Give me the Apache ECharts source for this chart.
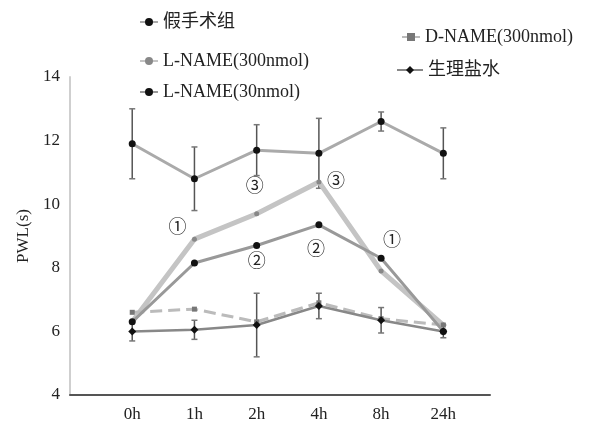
<!DOCTYPE html>
<html><head><meta charset="utf-8">
<script src="https://cdn.jsdelivr.net/npm/echarts@6/dist/echarts.min.js"></script>
<style>html,body{margin:0;padding:0;background:#fff}#c{width:611px;height:426px}</style>
</head><body><div id="c"></div>
<script>
const categories = ['0h','1h','2h','4h','8h','24h'];
const yTicks = [4,6,8,10,12,14];
const names = ['假手术组','L-NAME(300nmol)','L-NAME(30nmol)','D-NAME(300nmol)','生理盐水'];
const sham = [11.9,10.8,11.7,11.6,12.6,11.6];
const shamErr = [1.1,1.0,0.8,1.1,0.3,0.8];
const lname300 = [6.3,8.9,9.7,10.7,7.9,6.2];
const lname30 = [6.3,8.15,8.7,9.35,8.3,6.0];
const dname300 = [6.6,6.7,6.3,6.9,6.4,6.2];
const saline = [6.0,6.05,6.2,6.8,6.35,6.0];
const salineErr = [0.3,0.3,1.0,0.4,0.4,0.2];
const notes300 = ['','①','③','③','①',''];
const notes30 = ['','','②','②','',''];

const FONT = "'Liberation Serif','Noto Sans CJK SC',serif";
const offs300 = [[0,0],[-17,-11],[-2,-26],[17,0],[11,-30],[0,0]];
const offs30 = [[0,0],[0,0],[0,17],[-3,25],[0,0],[0,0]];

function pts(arr, notes, offs){
  return arr.map((v,i)=>{
    const d = {value:[i,v]};
    if(notes && notes[i]){
      d.label = {show:true, formatter:notes[i], position:'inside', offset:offs[i],
        fontSize:18, color:'#222', fontFamily:FONT};
    }
    return d;
  });
}
function errData(arr, err){ return arr.map((v,i)=>[i, v-err[i], v+err[i]]); }
function errRender(params, api){
  const x = api.value(0);
  const lo = api.coord([x, api.value(1)]);
  const hi = api.coord([x, api.value(2)]);
  return {type:'group', children:[
    {type:'line', shape:{x1:lo[0],y1:lo[1],x2:hi[0],y2:hi[1]}, style:{stroke:'#555',lineWidth:1.5}},
    {type:'line', shape:{x1:hi[0]-3,y1:hi[1],x2:hi[0]+3,y2:hi[1]}, style:{stroke:'#777',lineWidth:1.5}},
    {type:'line', shape:{x1:lo[0]-3,y1:lo[1],x2:lo[0]+3,y2:lo[1]}, style:{stroke:'#777',lineWidth:1.5}}
  ]};
}

const chart = echarts.init(document.getElementById('c'), null, {renderer:'canvas'});
const legendText = {fontSize:18, color:'#222', fontFamily:FONT};
chart.setOption({
  animation:false,
  backgroundColor:'#fff',
  grid:{left:70, right:121, top:77, bottom:31},
  legend:[
    {data:[names[0]], left:134, top:8, itemWidth:18, itemHeight:10, itemGap:6, textStyle:legendText},
    {data:[names[1]], left:134, top:47, itemWidth:18, itemHeight:10, itemGap:6, textStyle:legendText},
    {data:[names[2]], left:134, top:78, itemWidth:18, itemHeight:10, itemGap:6, textStyle:legendText},
    {data:[names[3]], left:396, top:23, itemWidth:18, itemHeight:10, itemGap:4, textStyle:legendText},
    {data:[names[4]], left:391, top:56, itemWidth:26, itemHeight:10, itemGap:2, textStyle:legendText}
  ],
  xAxis:{type:'value', min:-1, max:5.75, interval:1,
    axisLine:{onZero:false, lineStyle:{color:'#555', width:2}}, axisTick:{show:false}, splitLine:{show:false},
    axisLabel:{margin:11, fontSize:17, color:'#222', fontFamily:FONT,
      formatter:v=> (Number.isInteger(v) && v>=0 && v<categories.length) ? categories[v] : ''}},
  yAxis:{type:'value', min:yTicks[0], max:yTicks[yTicks.length-1], interval:2,
    name:'PWL(s)', nameLocation:'middle', nameGap:37, nameRotate:90,
    nameTextStyle:{fontSize:17, color:'#222', fontFamily:FONT},
    axisLine:{show:true, onZero:false, lineStyle:{color:'#cfcfcf', width:2}}, axisTick:{show:false}, splitLine:{show:false},
    axisLabel:{margin:10, fontSize:17, color:'#222', fontFamily:FONT}},
  series:[
    {type:'custom', renderItem:errRender, data:errData(sham, shamErr), z:1, silent:true},
    {type:'custom', renderItem:errRender, data:errData(saline, salineErr), z:1, silent:true},
    {name:names[0], type:'line', data:pts(sham), symbol:'circle', symbolSize:7,
      itemStyle:{color:'#111'}, lineStyle:{color:'#aaa', width:3}, z:3},
    {name:names[1], type:'line', data:pts(lname300, notes300, offs300), symbol:'circle', symbolSize:5,
      itemStyle:{color:'#888'}, lineStyle:{color:'#c4c4c4', width:5}, z:2},
    {name:names[2], type:'line', data:pts(lname30, notes30, offs30), symbol:'circle', symbolSize:7,
      itemStyle:{color:'#111'}, lineStyle:{color:'#999', width:3}, z:3},
    {name:names[3], type:'line', data:pts(dname300), symbol:'rect', symbolSize:5,
      itemStyle:{color:'#777'}, lineStyle:{color:'#bbb', width:3, type:'dashed'}, z:2},
    {name:names[4], type:'line', data:pts(saline), symbol:'diamond', symbolSize:8,
      itemStyle:{color:'#111'}, lineStyle:{color:'#888', width:2.5}, z:3}
  ]
});
</script></body></html>
